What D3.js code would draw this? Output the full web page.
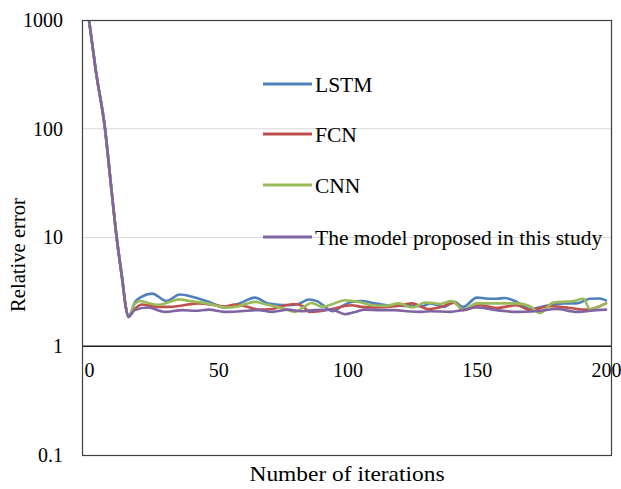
<!DOCTYPE html>
<html>
<head>
<meta charset="utf-8">
<script src="https://cdn.jsdelivr.net/npm/d3@7/dist/d3.min.js"></script>
<style>
  html, body { margin: 0; padding: 0; background: #fff; }
  svg { display: block; }
  text { font-family: "Liberation Serif", "Times New Roman", serif; fill: #000; }
</style>
</head>
<body>
<svg id="chart" width="621" height="489"></svg>
<script>
// ---- data ----
const seriesNames = ["LSTM", "FCN", "CNN", "The model proposed in this study"];
const seriesColors = ["#4F81BD", "#C0504D", "#9BBB59", "#8064A2"];
const yTickValues = [0.1, 1, 10, 100, 1000];
const yTickLabels = ["0.1", "1", "10", "100", "1000"];
const xTickValues = [0, 50, 100, 150, 200];
const xTickLabels = ["0", "50", "100", "150", "200"];

// shared initial decline (all models)
const declineIter = [0, 2.7, 6.2, 8.4, 10.7, 13.0, 14.1, 15.2];
const declineErr  = [1000, 333, 100, 32, 10, 3.9, 2.4, 1.86];

const lstmIter = [17.9, 20.3, 24.4, 30.0, 35.1, 39.2, 42.2, 46.3, 52.4, 58.6, 64.2, 69.4, 77.0, 81.0, 85.1, 88.2, 90.2, 94.3, 97.4, 101.5, 105.6, 109.6, 115.8, 121.9, 128.7, 132.1, 137.2, 141.3, 144.8, 150.0, 153.5, 157.6, 160.7, 165.5, 170.6, 176.0, 183.6, 188.7, 193.8, 197.5, 200];
const lstmErr  = [2.56, 2.85, 3.05, 2.61, 2.99, 2.88, 2.75, 2.56, 2.27, 2.5, 2.8, 2.47, 2.38, 2.45, 2.69, 2.6, 2.42, 2.1, 2.3, 2.55, 2.61, 2.5, 2.38, 2.35, 2.33, 2.48, 2.3, 2.56, 2.3, 2.8, 2.75, 2.73, 2.78, 2.56, 2.2, 2.33, 2.48, 2.48, 2.73, 2.75, 2.64];

const fcnIter = [17.7, 20.5, 23.8, 26.9, 31.0, 36.1, 42.2, 48.4, 52.4, 56.5, 61.6, 65.7, 70.8, 74.9, 79.7, 83.1, 85.1, 89.2, 93.9, 101.5, 105.6, 110.7, 118.3, 125.0, 131.1, 136.2, 141.3, 144.8, 151.3, 157.6, 165.5, 170.6, 178.4, 186.0, 192.4, 200];
const fcnErr  = [2.2, 2.42, 2.35, 2.3, 2.3, 2.37, 2.48, 2.4, 2.32, 2.42, 2.3, 2.17, 2.2, 2.35, 2.45, 2.3, 2.07, 2.1, 2.2, 2.38, 2.3, 2.27, 2.33, 2.48, 2.2, 2.3, 2.52, 2.15, 2.38, 2.25, 2.38, 2.15, 2.33, 2.25, 2.17, 2.48];

const cnnIter = [17.7, 19.8, 22.8, 26.9, 31.0, 34.7, 39.2, 43.8, 48.4, 52.4, 56.5, 60.6, 64.2, 67.8, 71.8, 75.9, 79.7, 83.1, 86.1, 90.2, 94.3, 99.0, 104.5, 109.6, 114.7, 119.9, 125.0, 130.1, 133.1, 135.8, 140.3, 144.8, 150.0, 157.6, 165.5, 170.6, 174.5, 179.6, 187.3, 191.3, 193.8, 200];
const cnnErr  = [2.45, 2.61, 2.5, 2.4, 2.55, 2.7, 2.6, 2.52, 2.4, 2.27, 2.3, 2.45, 2.56, 2.45, 2.33, 2.2, 2.07, 2.3, 2.5, 2.3, 2.45, 2.65, 2.55, 2.38, 2.35, 2.48, 2.27, 2.52, 2.5, 2.45, 2.6, 2.17, 2.48, 2.48, 2.48, 2.33, 2.02, 2.52, 2.6, 2.73, 2.2, 2.48];

const propIter = [17.7, 22.8, 29.5, 36.1, 41.2, 46.3, 52.4, 58.6, 65.7, 70.8, 77.0, 82.1, 87.2, 93.9, 99.0, 102.5, 106.6, 112.7, 118.3, 122.9, 128.7, 132.1, 139.7, 144.4, 150.0, 157.6, 165.5, 173.0, 180.9, 188.7, 196.4, 200];
const propErr  = [2.15, 2.27, 2.07, 2.15, 2.12, 2.17, 2.07, 2.1, 2.15, 2.07, 2.17, 2.1, 2.15, 2.17, 1.97, 2.05, 2.17, 2.15, 2.15, 2.1, 2.07, 2.1, 2.07, 2.15, 2.27, 2.15, 2.07, 2.1, 2.2, 2.07, 2.15, 2.17];

const axisTitleX = "Number of iterations";
const axisTitleY = "Relative error";

// ---- build ----
function buildSeries(iters, errs) {
  const pts = declineIter.map((d, i) => [d, declineErr[i]]);
  return pts.concat(iters.map((d, i) => [d, errs[i]]));
}
const series = [
  buildSeries(lstmIter, lstmErr),
  buildSeries(fcnIter, fcnErr),
  buildSeries(cnnIter, cnnErr),
  buildSeries(propIter, propErr)
];

const svg = d3.select("#chart");
svg.append("rect").attr("width", 621).attr("height", 489).attr("fill", "#fff");

const plot = { left: 82, right: 611, top: 20, bottom: 455 };
const x = d3.scaleLinear().domain([0, 200]).range([89, 606]);
const y = d3.scaleLog().domain([0.1, 1000]).range([plot.bottom, plot.top]);

// gridlines
svg.append("g")
  .selectAll("line")
  .data([10, 100])
  .join("line")
  .attr("x1", plot.left).attr("x2", plot.right)
  .attr("y1", d => y(d)).attr("y2", d => y(d))
  .attr("stroke", "#d9d9d9").attr("stroke-width", 1);

// clip
svg.append("clipPath").attr("id", "clip")
  .append("rect")
  .attr("x", plot.left).attr("y", plot.top)
  .attr("width", plot.right - plot.left).attr("height", plot.bottom - plot.top);

const line = d3.line()
  .x(d => x(d[0]))
  .y(d => y(d[1]))
  .curve(d3.curveMonotoneX);

svg.append("g").attr("clip-path", "url(#clip)")
  .selectAll("path")
  .data(series)
  .join("path")
  .attr("d", line)
  .attr("fill", "none")
  .attr("stroke", (d, i) => seriesColors[i])
  .attr("stroke-width", 2.6)
  .attr("stroke-linejoin", "round")
  .attr("stroke-linecap", "round");

// y axis
const yAxis = svg.append("g")
  .attr("transform", `translate(${plot.left},0)`)
  .call(d3.axisLeft(y)
    .tickValues(yTickValues)
    .tickFormat((d, i) => yTickLabels[i])
    .tickSize(0)
    .tickPadding(19));
yAxis.select(".domain").remove();
yAxis.selectAll("text")
  .style("font-family", '"Liberation Serif", "Times New Roman", serif')
  .style("font-size", "20px")
  .attr("fill", "#000");

// x axis at y = 1
const xAxis = svg.append("g")
  .attr("transform", `translate(0,${y(1)})`)
  .call(d3.axisBottom(x)
    .tickValues(xTickValues)
    .tickFormat((d, i) => xTickLabels[i])
    .tickSize(0)
    .tickPadding(17));
xAxis.select(".domain").remove();
xAxis.selectAll("text")
  .style("font-family", '"Liberation Serif", "Times New Roman", serif')
  .style("font-size", "20px")
  .attr("fill", "#000");
svg.append("line")
  .attr("x1", plot.left).attr("x2", plot.right)
  .attr("y1", y(1)).attr("y2", y(1))
  .attr("stroke", "#202020").attr("stroke-width", 1.3);

// plot border (drawn over labels as in the reference)
svg.append("rect")
  .attr("x", plot.left + 0.5).attr("y", plot.top + 0.5)
  .attr("width", plot.right - plot.left).attr("height", plot.bottom - plot.top)
  .attr("fill", "none").attr("stroke", "#404040").attr("stroke-width", 1.2);

// axis titles
svg.append("text")
  .attr("x", 347).attr("y", 480.5)
  .attr("text-anchor", "middle")
  .attr("textLength", 195)
  .attr("lengthAdjust", "spacingAndGlyphs")
  .style("font-size", "21.5px")
  .text(axisTitleX);

svg.append("text")
  .attr("transform", "translate(24.5,255) rotate(-90)")
  .attr("text-anchor", "middle")
  .style("font-size", "20.6px")
  .text(axisTitleY);

// legend
const legendY = [84, 134, 185, 237];
const legend = svg.append("g");
seriesNames.forEach((name, i) => {
  legend.append("line")
    .attr("x1", 263).attr("x2", 312)
    .attr("y1", legendY[i]).attr("y2", legendY[i])
    .attr("stroke", seriesColors[i]).attr("stroke-width", 3);
  legend.append("text")
    .attr("x", 315).attr("y", legendY[i] + 7.5)
    .style("font-size", "21.5px")
    .text(name);
});
</script>
</body>
</html>
